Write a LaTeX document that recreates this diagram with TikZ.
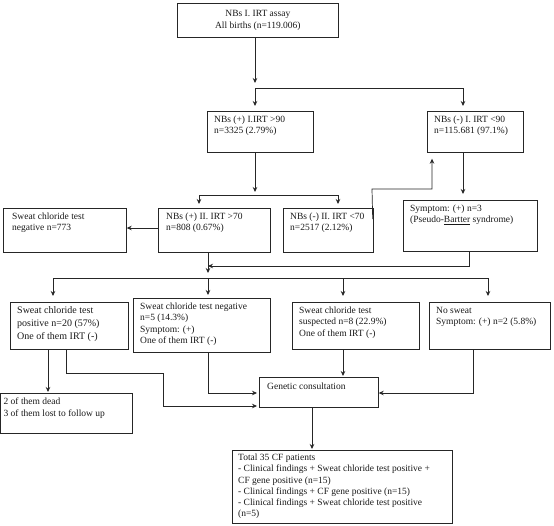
\documentclass[tikz,border=0pt]{standalone}
\usepackage{fontspec}
\setmainfont{Liberation Serif}
\usetikzlibrary{arrows.meta,calc}
\begin{document}
\begin{tikzpicture}[x=1pt,y=-1pt,
  frame/.style={draw=black!85,line width=0.7pt,rectangle,inner sep=0,anchor=north west},
  txt/.style={anchor=north west,inner sep=0,align=left,font=\fontsize{9.5}{11.2}\selectfont,text=black!90},
  conn/.style={draw=black!85,line width=0.7pt},
  arr/.style={conn,-{Stealth[length=5pt,width=4.5pt]}},
  ]
\useasboundingbox (0,0) rectangle (554,525);

% boxes
\node[frame,minimum width=161,minimum height=34] (top) at (177,3) {};
\node[txt,anchor=center,align=center] (topt) at (top.center) {NBs I. IRT assay\\All births (n=119.006)};

\node[frame,minimum width=106,minimum height=41] (p1) at (207,111) {};
\node[txt] (p1t) at ([shift={(7,5)}]p1.north west) {NBs (+) I.IRT >90\\n=3325 (2.79\%)};

\node[frame,minimum width=96,minimum height=41] (m1) at (427,111) {};
\node[txt] (m1t) at ([shift={(7,5)}]m1.north west) {NBs (-) I. IRT <90\\n=115.681 (97.1\%)};

\node[frame,minimum width=123,minimum height=44] (neg) at (3,208) {};
\node[txt] (negt) at ([shift={(9,5)}]neg.north west) {Sweat chloride test\\negative n=773};

\node[frame,minimum width=112,minimum height=44] (p2) at (158,208) {};
\node[txt] (p2t) at ([shift={(8,5)}]p2.north west) {NBs (+) II. IRT >70\\n=808 (0.67\%)};

\node[frame,minimum width=90,minimum height=44] (m2) at (283,208) {};
\node[txt] (m2t) at ([shift={(7,5)}]m2.north west) {NBs (-) II. IRT <70\\n=2517 (2.12\%)};

\node[frame,minimum width=134,minimum height=51] (sym) at (403,200) {};
\node[txt] (symt) at ([shift={(7,5)}]sym.north west) {Symptom: (+) n=3\\(Pseudo-\underline{Bartter} syndrome)};

\node[frame,minimum width=118,minimum height=47] (ba) at (10,302) {};
\node[txt,font=\fontsize{10}{13}\selectfont] (bat) at ([shift={(7,4)}]ba.north west) {Sweat chloride test\\positive n=20 (57\%)\\One of them IRT (-)};

\node[frame,minimum width=137,minimum height=54] (bb) at (133,298) {};
\node[txt] (bbt) at ([shift={(7,5)}]bb.north west) {Sweat chloride test negative\\n=5 (14.3\%)\\Symptom: (+)\\One of them IRT (-)};

\node[frame,minimum width=127,minimum height=47] (bc) at (292,302) {};
\node[txt] (bct) at ([shift={(7,5)}]bc.north west) {Sweat chloride test\\suspected n=8 (22.9\%)\\One of them IRT (-)};

\node[frame,minimum width=121,minimum height=47] (bd) at (429,302) {};
\node[txt] (bdt) at ([shift={(7,5)}]bd.north west) {No sweat\\Symptom: (+) n=2 (5.8\%)};

\node[frame,minimum width=132,minimum height=40] (be) at (0.4,393) {};
\node[txt] (bet) at ([shift={(3,5)}]be.north west) {2 of them dead\\3 of them lost to follow up};

\node[frame,minimum width=119,minimum height=30] (gen) at (259,377) {};
\node[txt] (gent) at ([shift={(8,6)}]gen.north west) {Genetic consultation};

\node[frame,minimum width=220,minimum height=73] (tot) at (232,450) {};
\node[txt] (tott) at ([shift={(6,4)}]tot.north west) {Total 35 CF patients\\- Clinical findings + Sweat chloride test positive +\\CF gene positive (n=15)\\- Clinical findings + CF gene positive (n=15)\\- Clinical findings + Sweat chloride test positive\\(n=5)};

% junction coordinates
\coordinate (j1) at (255,88);
\coordinate (j1r) at (463,88);
\coordinate (j2) at (255,195);
\coordinate (j2l) at (199,195);
\coordinate (j2r) at (338,195);
\coordinate (k1) at (372,189);
\coordinate (k2) at (432,189);
\coordinate (s1) at (469,266);
\coordinate (h0) at (53,278);
\coordinate (hb) at (208,278);
\coordinate (hc) at (343,278);
\coordinate (hd) at (488,278);
\coordinate (a1) at (66,373);
\coordinate (a2) at (163,373);
\coordinate (bb1) at (208,393);
\coordinate (bd1) at (473,393);

% connectors
\draw[arr,shorten >=5pt] (top.south -| j1) -- (j1);
\draw[conn] (j1) -- (j1r);
\draw[arr,shorten >=5pt] (j1) -- (p1.north -| j1);
\draw[arr,shorten >=5pt] (j1r) -- (m1.north -| j1r);

\draw[arr,shorten >=3pt] (p1.south -| j2) -- (j2);
\draw[conn] (j2l) -- (j2r);
\draw[arr,shorten >=4pt] (j2l) -- (p2.north -| j2l);
\draw[arr,shorten >=4pt] (j2r) -- (m2.north -| j2r);

\draw[arr] (p2.west |- 0,228) -- (neg.east |- 0,228);

\draw[arr,shorten >=6pt] ([shift={(-1,11)}]m2.north east) -- (k1) -- (k2) -- (m1.south -| k2);

\draw[arr,shorten >=6pt] (m1.south -| 463,0) -- (sym.north -| 463,0);

\draw[arr,shorten >=5pt] (p2.south -| hb) -- (hb);
\draw[arr] (sym.south -| s1) -- (s1) -- (s1 -| hb);

\draw[conn] (h0) -- (hd);
\draw[arr,shorten >=6pt] (h0) -- (ba.north -| h0);
\draw[arr,shorten >=3pt] (hb) -- (bb.north -| hb);
\draw[arr,shorten >=6pt] (hc) -- (bc.north -| hc);
\draw[arr,shorten >=6pt] (hd) -- (bd.north -| hd);

\draw[arr,shorten >=1pt] (ba.south -| 48,0) -- (be.north -| 48,0);
\draw[arr,shorten >=2pt] (ba.south -| a1) -- (a1) -- (a2) -- (a2 |- 0,406) -- (gen.west |- 0,406);
\draw[arr,shorten >=2pt] (bb.south -| bb1) -- (bb1) -- (gen.west |- bb1);
\draw[arr,shorten >=1pt] (bc.south -| hc) -- (gen.north -| hc);
\draw[arr] (bd.south -| bd1) -- (bd1) -- (gen.east |- bd1);
\draw[arr,shorten >=1pt] (gen.south -| 312,0) -- (tot.north -| 312,0);
\end{tikzpicture}
\end{document}
